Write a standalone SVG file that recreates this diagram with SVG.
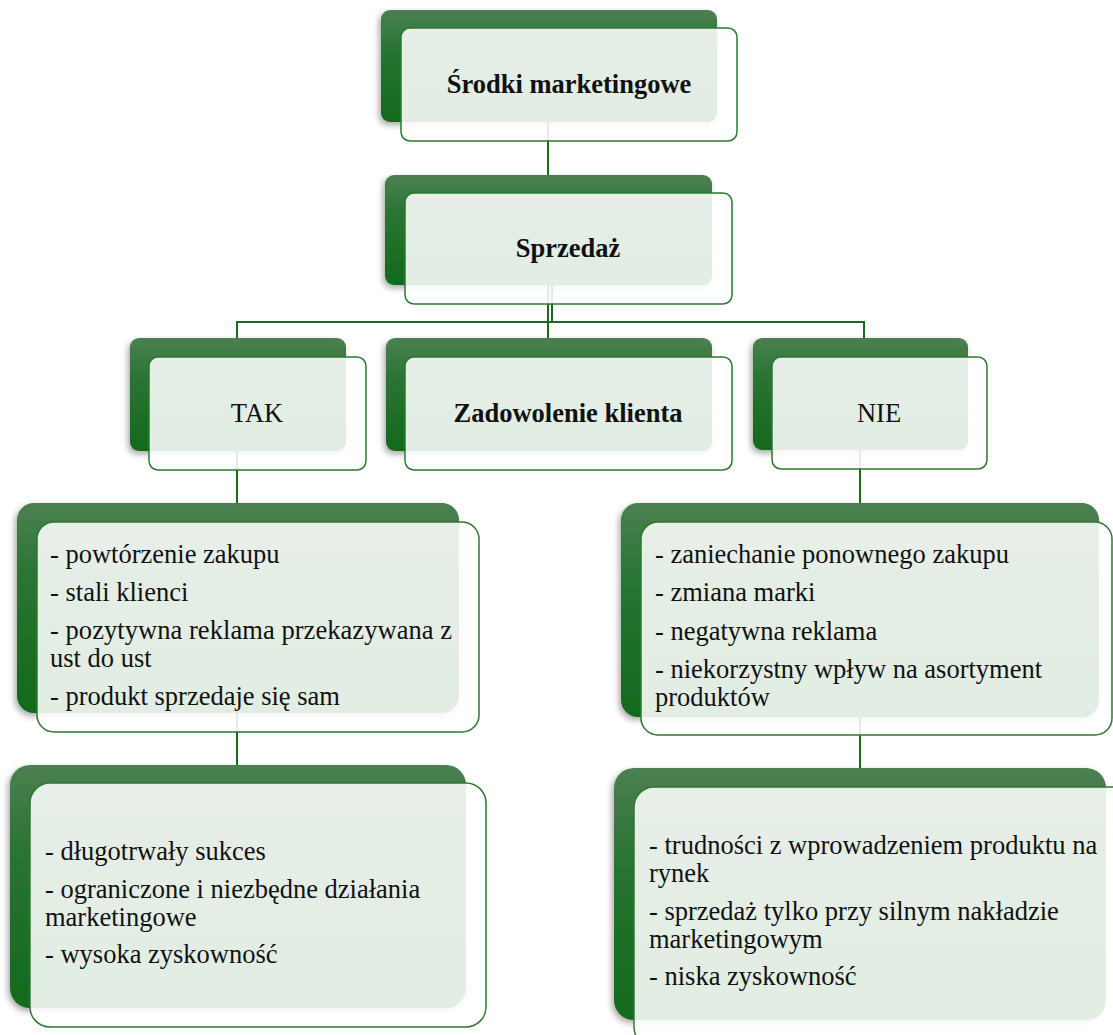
<svg xmlns="http://www.w3.org/2000/svg" width="1113" height="1035" viewBox="0 0 1113 1035">
  <defs>
    <linearGradient id="greenFill" x1="0" y1="0" x2="0" y2="1">
      <stop offset="0" stop-color="#4c8052"/>
      <stop offset="0.35" stop-color="#2a7433"/>
      <stop offset="1" stop-color="#116a1c"/>
    </linearGradient>
    <filter id="shadow" x="-10%" y="-10%" width="120%" height="130%">
      <feDropShadow dx="-2" dy="3" stdDeviation="3" flood-color="#000" flood-opacity="0.35"/>
    </filter>
  </defs>
  <style>
    .back { fill: url(#greenFill); filter: url(#shadow); }
    .front { fill: #ffffff; fill-opacity: 0.88; stroke: #2b7a31; stroke-width: 1.5; }
    .conn { fill: none; stroke: #1a6a22; stroke-width: 2; }
    text { font-family: "Liberation Serif", "Times New Roman", serif; font-size: 26.5px; fill: #111; }
    .title { font-weight: bold; text-anchor: middle; }
    .label { text-anchor: middle; }
  </style>

  <rect width="1113" height="1035" fill="#ffffff"/>

  <!-- connectors sit under the light cards -->
  <g id="connectors">
    <line class="conn" x1="548" y1="122" x2="548" y2="176"/>
    <line class="conn" x1="548" y1="285" x2="548" y2="339"/>
    <polyline class="conn" points="552,285 552,322 237,322 237,339"/>
    <polyline class="conn" points="552,322 864,322 864,339"/>
    <line class="conn" x1="237" y1="451" x2="237" y2="504"/>
    <line class="conn" x1="237" y1="713" x2="237" y2="766"/>
    <line class="conn" x1="860" y1="450" x2="860" y2="504"/>
    <line class="conn" x1="860" y1="717" x2="860" y2="769"/>
  </g>

  <g id="node-srodki">
    <rect class="back" x="381" y="10" width="336" height="112" rx="9"/>
    <rect class="front" x="401" y="28" width="336" height="113" rx="9"/>
    <text class="title" x="569" y="93">Środki marketingowe</text>
  </g>

  <g id="node-sprzedaz">
    <rect class="back" x="385" y="175" width="327" height="110" rx="9"/>
    <rect class="front" x="405" y="193" width="327" height="111" rx="9"/>
    <text class="title" x="568" y="257">Sprzedaż</text>
  </g>

  <g id="node-tak">
    <rect class="back" x="130" y="338" width="216" height="113" rx="9"/>
    <rect class="front" x="149" y="357" width="217" height="113" rx="9"/>
    <text class="label" x="257" y="422">TAK</text>
  </g>

  <g id="node-zadowolenie">
    <rect class="back" x="386" y="338" width="326" height="113" rx="9"/>
    <rect class="front" x="405" y="357" width="327" height="113" rx="9"/>
    <text class="title" x="568" y="422">Zadowolenie klienta</text>
  </g>

  <g id="node-nie">
    <rect class="back" x="753" y="338" width="215" height="112" rx="9"/>
    <rect class="front" x="772" y="357" width="215" height="112" rx="9"/>
    <text class="label" x="879" y="422">NIE</text>
  </g>

  <g id="node-tak-effects">
    <rect class="back" x="17" y="503" width="442" height="210" rx="17"/>
    <rect class="front" x="37" y="522" width="442" height="210" rx="17"/>
    <text x="50" y="563">- powtórzenie zakupu</text>
    <text x="50" y="601">- stali klienci</text>
    <text x="50" y="639" textLength="402" lengthAdjust="spacing">- pozytywna reklama przekazywana z</text>
    <text x="50" y="667">ust do ust</text>
    <text x="50" y="705">- produkt sprzedaje się sam</text>
  </g>

  <g id="node-nie-effects">
    <rect class="back" x="621" y="503" width="478" height="214" rx="17"/>
    <rect class="front" x="641" y="522" width="471" height="213" rx="17"/>
    <text x="655" y="563">- zaniechanie ponownego zakupu</text>
    <text x="655" y="601">- zmiana marki</text>
    <text x="655" y="640">- negatywna reklama</text>
    <text x="655" y="678">- niekorzystny wpływ na asortyment</text>
    <text x="655" y="706">produktów</text>
  </g>

  <g id="node-tak-result">
    <rect class="back" x="10" y="765" width="456" height="243" rx="20"/>
    <rect class="front" x="30" y="783" width="456" height="244" rx="20"/>
    <text x="45" y="860">- długotrwały sukces</text>
    <text x="45" y="898">- ograniczone i niezbędne działania</text>
    <text x="45" y="926">marketingowe</text>
    <text x="45" y="963">- wysoka zyskowność</text>
  </g>

  <g id="node-nie-result">
    <rect class="back" x="614" y="768" width="492" height="252" rx="20"/>
    <rect class="front" x="634" y="787" width="500" height="260" rx="20"/>
    <text x="649" y="854">- trudności z wprowadzeniem produktu na</text>
    <text x="649" y="882">rynek</text>
    <text x="649" y="920">- sprzedaż tylko przy silnym nakładzie</text>
    <text x="649" y="948">marketingowym</text>
    <text x="649" y="985">- niska zyskowność</text>
  </g>
</svg>
